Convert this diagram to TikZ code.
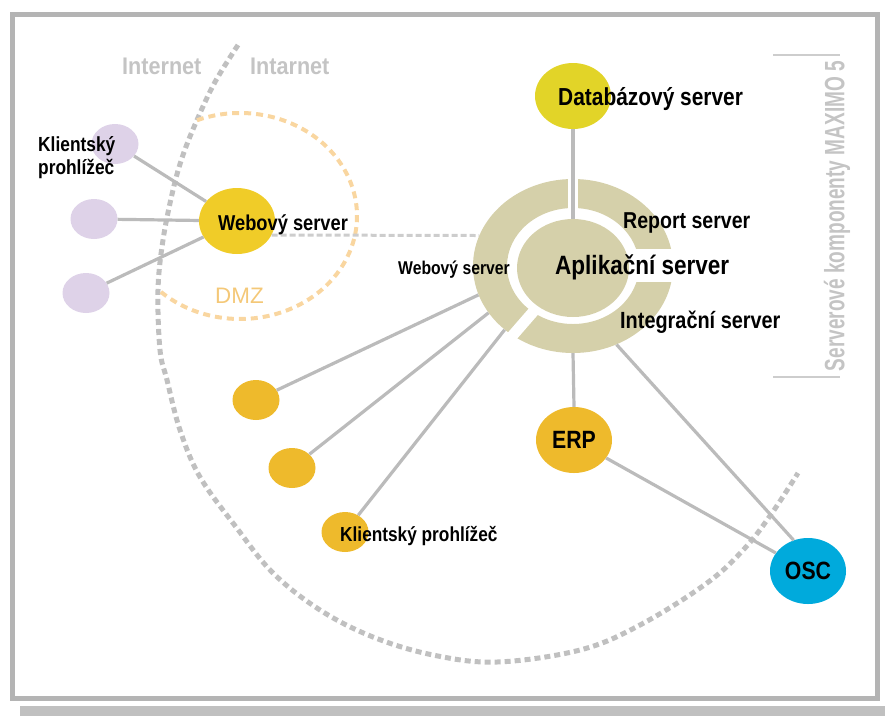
\documentclass[tikz,border=0pt]{standalone}
\usepackage{fontspec}
\setmainfont{Liberation Sans}
\newfontfamily\labfont[FakeStretch=0.85]{Liberation Sans}
\newfontfamily\greyfont[FakeStretch=0.9]{Liberation Sans}
\newfontfamily\sidefont[FakeStretch=0.68]{Liberation Sans}
\usetikzlibrary{shapes.geometric}

\definecolor{framegray}{RGB}{180,180,180}
\definecolor{bargray}{RGB}{192,192,192}
\definecolor{linkgray}{RGB}{187,187,187}
\definecolor{zonegray}{RGB}{192,192,192}
\definecolor{textgray}{RGB}{196,196,196}
\definecolor{rulegray}{RGB}{205,205,205}
\definecolor{dmzorange}{RGB}{249,214,160}
\definecolor{dmztext}{RGB}{244,200,120}
\definecolor{lilac}{RGB}{222,210,232}
\definecolor{webyellow}{RGB}{240,204,40}
\definecolor{dbyellow}{RGB}{226,212,40}
\definecolor{clientorange}{RGB}{238,186,44}
\definecolor{oscblue}{RGB}{0,170,220}
\definecolor{ringbeige}{RGB}{213,208,170}

\begin{document}
\begin{tikzpicture}[x=1pt,y=-1pt,
  bigblob/.style={ellipse, inner sep=0pt, minimum width=76pt, minimum height=66pt},
  smallblob/.style={ellipse, inner sep=0pt, minimum width=47pt, minimum height=40pt},
  link/.style={draw=linkgray, line width=3.2pt},
  webdash/.style={draw=rulegray, line width=3pt, dash pattern=on 6pt off 3pt},
  zone/.style={draw=zonegray, line width=5pt, dash pattern=on 6pt off 4pt},
  dmzzone/.style={draw=dmzorange, line width=4pt, dash pattern=on 7pt off 5pt},
  lbl/.style={inner sep=0pt, anchor=base west,
    font={\labfont\bfseries\fontsize{#1}{#1}\selectfont}},
  zonelbl/.style={inner sep=0pt, anchor=base west, text=textgray,
    font={\greyfont\bfseries\fontsize{24}{24}\selectfont}}
]
\useasboundingbox (0,0) rectangle (885,716);

% frame and bottom bar
\draw[framegray, line width=5pt] (12,14) rectangle (877,698);
\fill[bargray] (20,706) rectangle (885,716);

% Internet / Intranet boundary
\draw[zone] plot[smooth, tension=0.6] coordinates {
  (238,45) (215,82) (197,120) (183,155) (173,190) (163,240) (158,290)
  (160,350) (167,380) (180,430) (200,477) (236,527) (273,573) (320,610)
  (373,637) (433,655) (497,662) (580,650) (640,625) (707,583) (745,548)
  (772,513) (798,473)};

% DMZ zone
\coordinate (dmzc) at (240,216);
\draw[dmzzone] ([shift={(111.6:117pt and 103pt)}]dmzc)
  arc[start angle=111.6, end angle=-134.3, x radius=117pt, y radius=103pt];

% application server ring with its three segments
\coordinate (ringc) at (573,266);
\fill[ringbeige, even odd rule] (ringc) ellipse[x radius=100pt, y radius=87pt]
  (ringc) ellipse[x radius=66pt, y radius=58pt];
\draw[white, line width=10pt] (ringc) -- ++(90:100pt);
\draw[white, line width=11pt] (ringc) -- ++(-131:115pt);
\fill[white] (620,249) rectangle (690,282);
\node[ellipse, inner sep=0pt, minimum width=200pt, minimum height=174pt] (ring) at (ringc) {};
\node[ellipse, inner sep=0pt, minimum width=112pt, minimum height=98pt, fill=ringbeige] (app) at (573,268) {};

% nodes
\node[bigblob, fill=webyellow] (web) at (237,221) {};
\node[smallblob, fill=lilac] (p1) at (115,144) {};
\node[smallblob, fill=lilac] (p2) at (94,219) {};
\node[smallblob, fill=lilac] (p3) at (86,293) {};
\node[smallblob, fill=clientorange] (o1) at (256,400) {};
\node[smallblob, fill=clientorange] (o2) at (292,468) {};
\node[smallblob, fill=clientorange] (o3) at (345,532) {};
\node[bigblob, fill=dbyellow] (db) at (573,96) {};
\node[bigblob, fill=clientorange, font={\labfont\bfseries\fontsize{25}{25}\selectfont}] (erp) at (574,440) {ERP};
\node[bigblob, fill=oscblue, font={\labfont\bfseries\fontsize{25}{25}\selectfont}] (osc) at (808,571) {OSC};

% connectors
\draw[link] (p1) -- (web);
\draw[link] (p2) -- (web);
\draw[link] (p3) -- (web);
\draw[link] (o1) -- (ring.197);
\draw[link] (o2) -- (ring.209);
\draw[link] (o3) -- (ring.223);
\draw[link] (db) -- (app);
\draw[link] (ring.south) -- (erp.north);
\draw[link] (ring.-61) -- (osc.115);
\draw[link] (erp) -- (osc);
\draw[webdash] (web.-22) -- (ring.162);

% labels
\node[lbl=21.5] (webtxt) at (218,230) {Webový server};
\node[lbl=20.4] (kl1) at (38,151) {Klientský};
\node[lbl=20.4] (kl2) at (38,174) {prohlížeč};
\node[lbl=20.3] (kl3) at (340,541) {Klientský prohlížeč};
\node[lbl=24.6] (dbtxt) at (558,105) {Databázový server};
\node[lbl=18.5] (ringweb) at (398,274) {Webový server};
\node[lbl=23] (report) at (623,228) {Report server};
\node[lbl=26.5] (apptxt) at (555,274) {Aplikační server};
\node[lbl=23.4] (integ) at (620,328) {Integrační server};

\node[zonelbl] (inet) at (122,74) {Internet};
\node[zonelbl] (intra) at (250,74) {Intarnet};
\node[inner sep=0pt, anchor=base west, text=dmztext, font={\fontsize{22.4}{22.4}\selectfont}] (dmz) at (215,303) {DMZ};

% side caption with its rules
\draw[rulegray, line width=1.5pt] (773,55) -- (840,55);
\draw[rulegray, line width=1.5pt] (773,377) -- (840,377);
\node[rotate=90, inner sep=0pt, text=textgray, font={\sidefont\bfseries\fontsize{28}{28}\selectfont}] (side) at (837,216) {Serverové komponenty MAXIMO 5};
\end{tikzpicture}
\end{document}
